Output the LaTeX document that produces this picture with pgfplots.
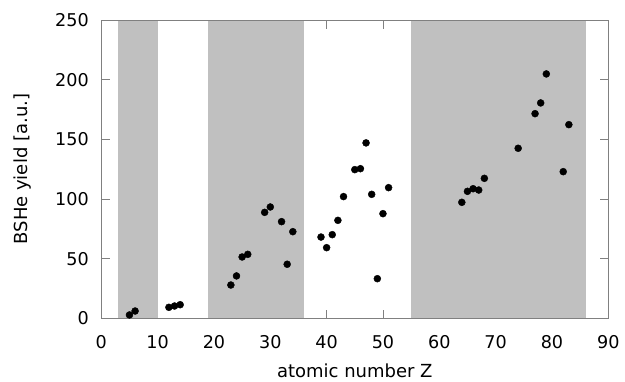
\documentclass[border=0pt]{standalone}
\usepackage{pgfplots}
\pgfplotsset{compat=1.18}
\usepackage{fontspec}
\setmainfont{DejaVu Sans}
\definecolor{bandgray}{RGB}{192,192,192}
\definecolor{framegray}{RGB}{128,128,128}
\begin{document}
\begin{tikzpicture}
\path (-101.3pt,-62.7pt) rectangle (523.7pt,318.3pt);
\begin{axis}[
  at={(0,0)}, anchor=south west,
  scale only axis,
  width=507pt, height=298.3pt,
  xmin=0, xmax=90, ymin=0, ymax=250,
  xtick={0,10,...,90}, ytick={0,50,...,250},
  tick align=inside,
  major tick length=8.7pt,
  axis line style={framegray, line width=0.8pt},
  every tick/.style={framegray, line width=0.8pt},
  /pgf/number format/assume math mode=true,
  tick label style={font=\fontsize{17.6}{21}\selectfont},
  label style={font=\fontsize{18}{21}\selectfont},
  xticklabel style={anchor=north, inner sep=0pt, yshift=-16.7pt},
  yticklabel style={anchor=east, inner sep=0pt, xshift=-12.3pt},
  xlabel={atomic number Z},
  ylabel={BSHe yield [a.u.]},
  xlabel style={at={(axis description cs:0.5,-0.2)}, anchor=base, inner sep=0pt},
  ylabel style={at={(axis description cs:-0.1452,0.5)}, anchor=base, inner sep=0pt},
  clip=true,
]
\addplot[fill=bandgray, draw=none] coordinates {(3,0) (3,250) (10,250) (10,0)} -- cycle;
\addplot[fill=bandgray, draw=none] coordinates {(19,0) (19,250) (36,250) (36,0)} -- cycle;
\addplot[fill=bandgray, draw=none] coordinates {(55,0) (55,250) (86,250) (86,0)} -- cycle;
\addplot[only marks, mark=*, mark size=3.5pt, black, mark options={fill=black, draw=black}] coordinates {
(5,2.8) (6,6.1) (12,9.2) (13,10.3) (14,11.4)
(23,27.9) (24,35.5) (25,51.4) (26,53.6) (29,88.8) (30,93.3) (32,81) (33,45.3) (34,72.6)
(39,68.1) (40,59.2) (41,70.1) (42,82.1) (43,102) (45,124.6) (46,125.4) (47,147)
(48,103.9) (49,33.2) (50,87.7) (51,109.5)
(64,97.2) (65,106.4) (66,108.6) (67,107.5) (68,117.3) (74,142.5)
(77,171.5) (78,180.5) (79,204.8) (82,122.9) (83,162.3)
};
\draw[framegray, line width=0.8pt] (rel axis cs:0,0) rectangle (rel axis cs:1,1);
\end{axis}
\end{tikzpicture}
\end{document}
